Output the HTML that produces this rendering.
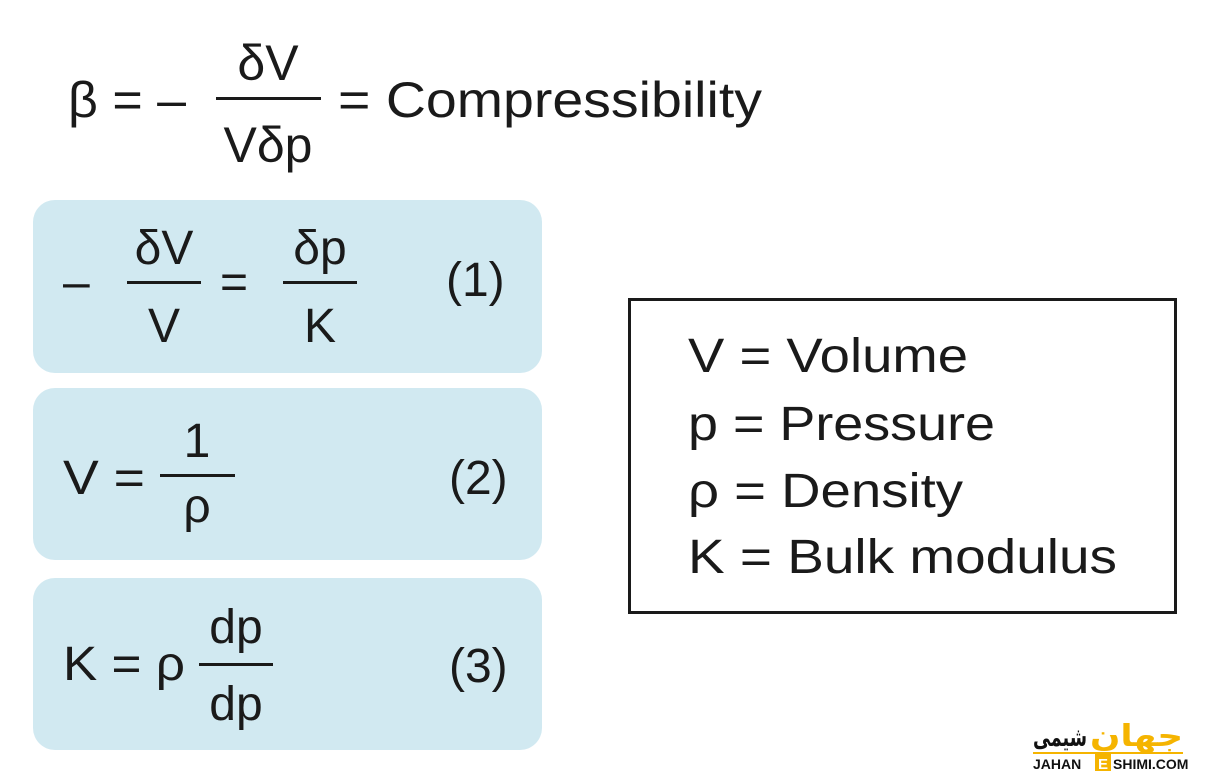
<!DOCTYPE html>
<html><head><meta charset="utf-8"><style>html,body{margin:0;padding:0;background:#fff}svg{display:block}</style></head>
<body>
<svg width="1212" height="784" xmlns="http://www.w3.org/2000/svg" font-family="Liberation Sans, DejaVu Sans, sans-serif" fill="#1a1a1a">
<g font-size="50">
<text x="68" y="117" textLength="118" lengthAdjust="spacingAndGlyphs">β = –</text>
<rect x="216" y="97" width="105" height="3"/>
<text x="268" y="80" text-anchor="middle">δV</text>
<text x="268" y="162" text-anchor="middle">Vδp</text>
<text x="338" y="117" textLength="424" lengthAdjust="spacingAndGlyphs">= Compressibility</text>
</g>
<rect x="33" y="200" width="509" height="173" rx="22" fill="#d1e9f1"/>
<rect x="33" y="388" width="509" height="172" rx="22" fill="#d1e9f1"/>
<rect x="33" y="578" width="509" height="172" rx="22" fill="#d1e9f1"/>
<g font-size="48">
<text x="63" y="298">–</text>
<rect x="127" y="281" width="74" height="3"/>
<text x="164" y="264" text-anchor="middle">δV</text>
<text x="164" y="342" text-anchor="middle">V</text>
<text x="220" y="298">=</text>
<rect x="283" y="281" width="74" height="3"/>
<text x="320" y="264" text-anchor="middle">δp</text>
<text x="320" y="342" text-anchor="middle">K</text>
<text x="446" y="296">(1)</text>
<text x="63" y="494" textLength="82" lengthAdjust="spacingAndGlyphs">V =</text>
<rect x="160" y="474" width="75" height="3"/>
<text x="197" y="457" text-anchor="middle">1</text>
<text x="197" y="522" text-anchor="middle">ρ</text>
<text x="449" y="494">(2)</text>
<text x="63" y="680" textLength="122" lengthAdjust="spacingAndGlyphs">K = ρ</text>
<rect x="199" y="663" width="74" height="3"/>
<text x="236" y="643" text-anchor="middle">dp</text>
<text x="236" y="720" text-anchor="middle">dp</text>
<text x="449" y="682">(3)</text>
</g>
<rect x="629.5" y="299.5" width="546" height="313" fill="none" stroke="#1a1a1a" stroke-width="3"/>
<g font-size="48">
<text x="688" y="372" textLength="280" lengthAdjust="spacingAndGlyphs">V = Volume</text>
<text x="688" y="440" textLength="307" lengthAdjust="spacingAndGlyphs">p = Pressure</text>
<text x="688" y="507" textLength="275" lengthAdjust="spacingAndGlyphs">ρ = Density</text>
<text x="688" y="573" textLength="429" lengthAdjust="spacingAndGlyphs">K = Bulk modulus</text>
</g>
<g>
<rect x="1033" y="752" width="150" height="2" fill="#f5b400"/>
<text x="1090" y="746" font-size="30" font-weight="bold" fill="#f5b400" textLength="93" lengthAdjust="spacingAndGlyphs" font-family="DejaVu Sans, sans-serif">جهان</text>
<text x="1033" y="746" font-size="26" font-weight="bold" fill="#111" textLength="54" lengthAdjust="spacingAndGlyphs" font-family="DejaVu Sans, sans-serif">شیمی</text>
<rect x="1095" y="754" width="16" height="17" fill="#f5b400"/>
<text x="1103" y="769" font-size="15" font-weight="bold" fill="#fff" text-anchor="middle">E</text>
<text x="1033" y="769" font-size="14" font-weight="bold" fill="#111">JAHAN</text>
<text x="1113" y="769" font-size="14" font-weight="bold" fill="#111">SHIMI.COM</text>
</g>
</svg>
</body></html>
